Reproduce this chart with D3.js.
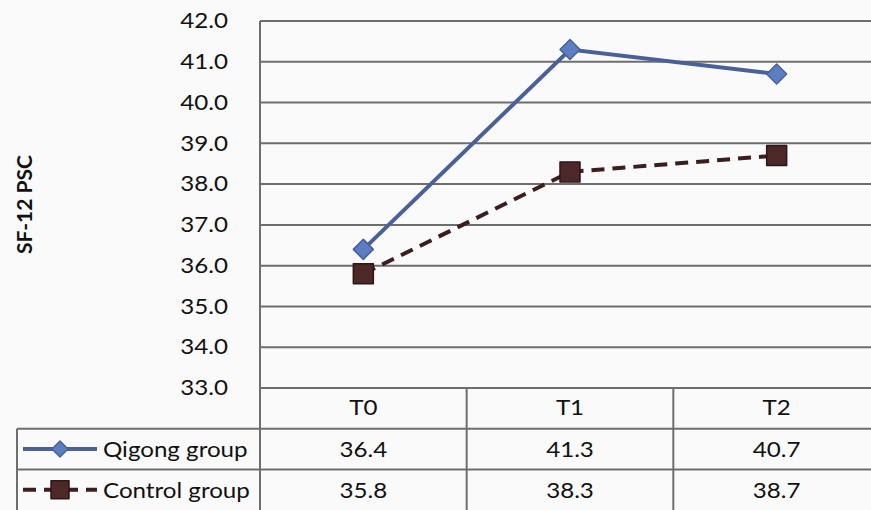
<!DOCTYPE html>
<html>
<head>
<meta charset="utf-8">
<script src="https://cdn.jsdelivr.net/npm/d3@7"></script>
<style>
  html, body { margin: 0; padding: 0; background: #fafafa; overflow: hidden; }
  svg { display: block; font-family: Lato, "Open Sans", sans-serif; }
</style>
</head>
<body>
<svg id="chart" width="871" height="510"></svg>
<script>
// Time points and group means for SF-12 physical summary component
const timepoints = ["T0", "T1", "T2"];
const qigongValues = [36.4, 41.3, 40.7];
const controlValues = [35.8, 38.3, 38.7];
const seriesNames = ["Qigong group", "Control group"];
const yTicks = [33, 34, 35, 36, 37, 38, 39, 40, 41, 42];
const yLabel = "SF-12 PSC";

const svg = d3.select("#chart");
const W = 871, H = 510;

const plot = { left: 260, right: 880, top: 21, bottom: 388 };
const rowH = 40.7;
const legendLeft = 17;
const sx = 1.15;        // horizontal widening of the text glyphs
const fontSize = 21;

const x = d3.scaleBand().domain(timepoints).range([plot.left, plot.right]);
const y = d3.scaleLinear().domain([33, 42]).range([plot.bottom, plot.top]);
const cx = t => x(t) + x.bandwidth() / 2;

const gridColor = "#6e6e6e";

// text helper: widened glyphs anchored at (px, py)
function label(parent, px, py, str, anchor) {
  return parent.append("text")
    .attr("transform", `translate(${px},${py}) scale(${sx},1)`)
    .attr("text-anchor", anchor || "start")
    .attr("font-size", fontSize).attr("fill", "#111")
    .text(str);
}

// horizontal gridlines
svg.append("g").selectAll("line").data(yTicks).join("line")
  .attr("x1", plot.left).attr("x2", plot.right)
  .attr("y1", d => y(d)).attr("y2", d => y(d))
  .attr("stroke", gridColor).attr("stroke-width", 2);

// y axis line (continues down through the data table)
svg.append("line")
  .attr("x1", plot.left).attr("x2", plot.left)
  .attr("y1", plot.top).attr("y2", H)
  .attr("stroke", gridColor).attr("stroke-width", 2);

// y tick labels
const pad = 32;
const yAxis = d3.axisLeft(y).tickValues(yTicks).tickFormat(d3.format(".1f")).tickSize(0).tickPadding(pad);
const gy = svg.append("g").attr("transform", `translate(${plot.left},0)`).call(yAxis);
gy.select(".domain").remove();
gy.selectAll("text")
  .attr("x", -pad / sx)
  .attr("transform", `scale(${sx},1)`)
  .attr("font-size", fontSize).attr("fill", "#111").attr("font-family", "Lato, sans-serif");

// y axis title
svg.append("text")
  .attr("transform", `translate(32,${(plot.top + plot.bottom) / 2}) rotate(-90)`)
  .attr("text-anchor", "middle")
  .attr("font-size", 21).attr("font-weight", "bold").attr("fill", "#111")
  .text(yLabel);

// data table grid
const rowTops = [plot.bottom, plot.bottom + rowH, plot.bottom + 2 * rowH];
const tbl = svg.append("g").attr("stroke", gridColor).attr("stroke-width", 2);
tbl.append("line").attr("x1", legendLeft).attr("x2", plot.right).attr("y1", rowTops[1]).attr("y2", rowTops[1]);
tbl.append("line").attr("x1", legendLeft).attr("x2", plot.right).attr("y1", rowTops[2]).attr("y2", rowTops[2]);
tbl.append("line").attr("x1", legendLeft).attr("x2", legendLeft).attr("y1", rowTops[1]).attr("y2", H);
tbl.selectAll("line.col").data(timepoints.slice(1)).join("line").attr("class", "col")
  .attr("x1", d => x(d)).attr("x2", d => x(d))
  .attr("y1", plot.bottom).attr("y2", H);

// header labels
const header = svg.append("g");
timepoints.forEach(t => label(header, cx(t), rowTops[0] + 27, t, "middle"));

const series = [
  { name: seriesNames[0], values: qigongValues, line: "#4a6098", fill: "#5b7dc2", stroke: "#4a6098", dash: null, marker: "diamond" },
  { name: seriesNames[1], values: controlValues, line: "#3b1e1e", fill: "#4c2828", stroke: "#2e1616", dash: "13,8", marker: "square" }
];

const line = d3.line().x((d, i) => cx(timepoints[i])).y(d => y(d));

series.forEach((s, si) => {
  // series line
  svg.append("path").datum(s.values)
    .attr("d", line).attr("fill", "none")
    .attr("stroke", s.line).attr("stroke-width", 4)
    .attr("stroke-dasharray", s.dash);
  // markers
  const mg = svg.append("g").attr("fill", s.fill).attr("stroke", s.stroke)
    .attr("stroke-width", 1.5).attr("stroke-linejoin", "round");
  s.values.forEach((v, i) => {
    const px = cx(timepoints[i]);
    const py = y(v);
    if (s.marker === "diamond") {
      mg.append("path").attr("d", `M${px},${py - 10}L${px + 10},${py}L${px},${py + 10}L${px - 10},${py}Z`);
    } else {
      mg.append("rect").attr("x", px - 10).attr("y", py - 10).attr("width", 20).attr("height", 20);
    }
  });

  // table row: legend key and values
  const rowMid = rowTops[si + 1] + rowH / 2;
  svg.append("line").attr("x1", 23).attr("x2", 97).attr("y1", rowMid).attr("y2", rowMid)
    .attr("stroke", s.line).attr("stroke-width", 4).attr("stroke-dasharray", s.dash);
  const lg = svg.append("g").attr("fill", s.fill).attr("stroke", s.stroke)
    .attr("stroke-width", 1.5).attr("stroke-linejoin", "round");
  if (s.marker === "diamond") {
    lg.append("path").attr("d", `M60,${rowMid - 8}L68,${rowMid}L60,${rowMid + 8}L52,${rowMid}Z`);
  } else {
    lg.append("rect").attr("x", 51).attr("y", rowMid - 9).attr("width", 18).attr("height", 18);
  }
  const tg = svg.append("g");
  label(tg, 103, rowMid + 8, s.name, "start");
  s.values.forEach((v, i) => label(tg, cx(timepoints[i]), rowMid + 8, d3.format(".1f")(v), "middle"));
});
</script>
</body>
</html>
